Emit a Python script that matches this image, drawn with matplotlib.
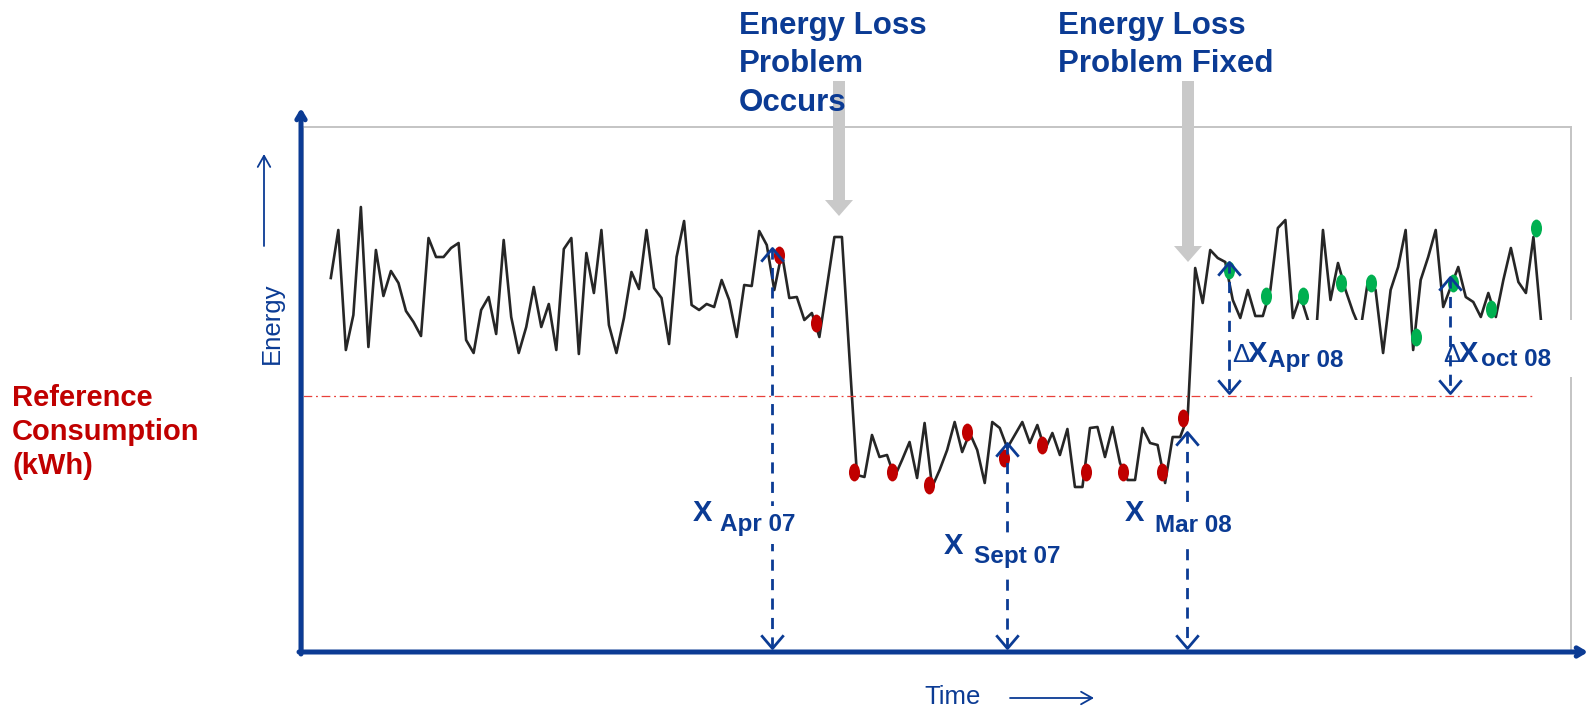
import matplotlib
matplotlib.use("Agg")
import matplotlib.pyplot as plt
import matplotlib.transforms as mtransforms
from matplotlib.patches import FancyArrow, Rectangle
from matplotlib.path import Path
import numpy as np

# energy readings (one per time step), arbitrary kWh units
energy = [74.6, 84.2, 60.2, 67.2, 88.8, 60.8, 80.2, 71.0, 76.0, 73.6,
          68.0, 65.8, 63.0, 82.6, 78.8, 78.8, 80.6, 81.6, 62.2, 59.6,
          68.2, 70.8, 63.4, 82.2, 66.8, 59.6, 64.8, 72.8, 64.8, 69.4,
          60.2, 80.4, 82.6, 59.4, 79.6, 71.6, 84.2, 65.2, 59.6, 66.6,
          75.8, 72.4, 84.2, 72.6, 70.6, 61.4, 78.8, 86.0, 69.2, 68.2,
          69.4, 68.8, 74.2, 70.2, 62.8, 73.2, 73.0, 84.0, 81.2, 72.2,
          79.6, 70.6, 70.8, 66.2, 67.6, 62.8, 72.8, 82.8, 82.8, 58.8,
          35.2, 34.8, 43.2, 38.8, 39.2, 34.8, 38.2, 41.8, 34.6, 45.6,
          32.8, 36.2, 40.2, 45.8, 39.8, 43.6, 40.2, 33.6, 45.8, 44.6,
          40.6, 43.2, 45.8, 41.6, 45.2, 40.2, 43.6, 39.2, 44.4, 32.8,
          32.8, 44.6, 44.8, 38.8, 44.8, 37.6, 34.2, 34.2, 44.6, 41.6,
          41.2, 33.6, 42.8, 42.8, 46.8, 76.6, 69.6, 80.2, 78.6, 77.8,
          70.2, 66.6, 72.2, 67.0, 67.0, 72.2, 84.6, 86.2, 66.6, 71.0,
          66.2, 61.2, 84.2, 70.2, 77.6, 72.2, 67.8, 64.2, 74.2, 72.2,
          59.6, 72.2, 76.8, 84.2, 60.2, 74.2, 78.8, 84.2, 68.8, 72.8,
          76.8, 70.8, 69.8, 66.8, 71.6, 66.8, 74.2, 80.6, 73.8, 71.6,
          82.8, 66.2]
ref_level = 51.0
ref_end = 160.2

# highlighted readings
red_t = [59.6, 64.5, 69.6, 74.6, 79.6, 84.6, 89.5, 94.6, 100.5, 105.4, 110.6, 113.4]
red_e = [79.2, 65.6, 35.8, 35.8, 33.2, 43.8, 38.6, 41.2, 35.8, 35.8, 35.8, 46.6]
green_t = [119.5, 124.4, 129.3, 134.4, 138.4, 144.4, 149.3, 154.3, 160.3]
green_e = [76.2, 71.0, 71.0, 73.6, 73.6, 62.8, 73.6, 68.4, 84.6]

# marked months
months = ["Apr 07", "Sept 07", "Mar 08"]
month_t = [58.7, 89.9, 113.9]
month_top = [80.6, 41.6, 43.8]
delta_months = ["Apr 08", "oct 08"]
delta_t = [119.5, 148.9]
delta_top = [77.8, 74.8]

BLUE = "#0B3B94"
RED = "#C00000"
W, H = 1591, 710

plt.rcParams['font.family'] = ['Liberation Sans', 'DejaVu Sans']

fig = plt.figure(figsize=(W / 100, H / 100), dpi=100)
ax = fig.add_axes([303 / W, 1 - 651 / H, (1571 - 303) / W, (651 - 127) / H])
ax.set_xlim(-3.7, 165.0)
ax.set_ylim(0, 104.8)
ax.set_xticks([])
ax.set_yticks([])
for s in ax.spines.values():
    s.set_color("#C4C4C4")
    s.set_linewidth(1.4)

# pixel coords, origin top-left
pix = mtransforms.Affine2D().scale(1, -1).translate(0, H)

t = np.arange(len(energy))
ax.plot(t, energy, color="#262626", lw=1.9, zorder=2)
ax.plot([-3.7, ref_end], [ref_level, ref_level], color="#E8403A", lw=0.9,
        linestyle=(0, (7, 3, 1.5, 3)), zorder=2)

ell = Path.unit_circle().transformed(mtransforms.Affine2D().scale(0.62, 1.0))
ax.scatter(red_t, red_e, s=165, marker=ell, color=RED, zorder=3, linewidths=0)
ax.scatter(green_t, green_e, s=165, marker=ell, color="#00B050", zorder=3, linewidths=0)

# white boxes behind the delta labels
for x0, x1 in [(1232, 1372), (1440, 1585)]:
    ax.add_patch(Rectangle((x0, 320), x1 - x0, 57, transform=pix, facecolor="white",
                           edgecolor="none", zorder=4, clip_on=False))

up = Path([(-0.85, -1), (0, 0), (0.85, -1)], [Path.MOVETO, Path.LINETO, Path.LINETO])
down = Path([(-0.85, 1), (0, 0), (0.85, 1)], [Path.MOVETO, Path.LINETO, Path.LINETO])
dash = (0, (4, 3))

for tm, top in zip(month_t, month_top):
    ax.plot([tm, tm], [top, 0.6], color=BLUE, lw=2.0, linestyle=dash, zorder=5, clip_on=False)
    ax.plot([tm], [top], marker=up, ms=19, mfc="none", mec=BLUE, mew=2.0, ls="none",
            zorder=6, clip_on=False)
    ax.plot([tm], [0.6], marker=down, ms=19, mfc="none", mec=BLUE, mew=2.0, ls="none",
            zorder=6, clip_on=False)

for tm, top in zip(delta_t, delta_top):
    ax.plot([tm, tm], [top, ref_level + 0.6], color=BLUE, lw=2.0, linestyle=dash, zorder=5)
    ax.plot([tm], [top], marker=up, ms=19, mfc="none", mec=BLUE, mew=2.0, ls="none", zorder=6)
    ax.plot([tm], [ref_level + 0.6], marker=down, ms=19, mfc="none", mec=BLUE, mew=2.0,
            ls="none", zorder=6)

# month labels
lab_pos = [(693, 513, 720, 525), (944, 546, 974, 556), (1125, 513, 1155, 525)]
for name, (xx, yx, xs, ys) in zip(months, lab_pos):
    ax.text(xx, yx, "X", transform=pix, fontsize=21, fontweight="bold", color=BLUE,
            ha="left", va="center", zorder=7)
    ax.text(xs, ys, name, transform=pix, fontsize=17.5, fontweight="bold", color=BLUE,
            ha="left", va="center", zorder=7,
            bbox=dict(facecolor="white", edgecolor="none", pad=5))

dlab_pos = [(1232, 1248, 1268), (1443, 1459, 1481)]
for name, (xd, xx, xs) in zip(delta_months, dlab_pos):
    ax.text(xd, 355, "\u0394", transform=pix, fontsize=19, color=BLUE, ha="left",
            va="center", zorder=7)
    ax.text(xx, 354, "X", transform=pix, fontsize=21, fontweight="bold", color=BLUE,
            ha="left", va="center", zorder=7)
    ax.text(xs, 360, name, transform=pix, fontsize=17.5, fontweight="bold", color=BLUE,
            ha="left", va="center", zorder=7)

# axes arrows
ax.annotate("", xy=(301, 108), xytext=(301, 654), xycoords=pix, textcoords=pix,
            arrowprops=dict(arrowstyle="->,head_length=0.5,head_width=0.3", lw=3.6,
                            color=BLUE, shrinkA=0, shrinkB=0),
            annotation_clip=False)
ax.annotate("", xy=(1588, 652), xytext=(299, 652), xycoords=pix, textcoords=pix,
            arrowprops=dict(arrowstyle="->,head_length=0.5,head_width=0.3", lw=3.6,
                            color=BLUE, shrinkA=0, shrinkB=0),
            annotation_clip=False)

ax.text(272, 323, "Energy", transform=pix, rotation=90, fontsize=18.5, color=BLUE,
        ha="center", va="center")
ax.annotate("", xy=(264, 154), xytext=(264, 246), xycoords=pix, textcoords=pix,
            arrowprops=dict(arrowstyle="->,head_length=0.8,head_width=0.45", lw=1.3,
                            color=BLUE, shrinkA=0, shrinkB=0),
            annotation_clip=False)
ax.text(953, 697, "Time", transform=pix, fontsize=18.5, color=BLUE, ha="center", va="center")
ax.annotate("", xy=(1094, 698), xytext=(1010, 698), xycoords=pix, textcoords=pix,
            arrowprops=dict(arrowstyle="->,head_length=0.8,head_width=0.45", lw=1.3,
                            color=BLUE, shrinkA=0, shrinkB=0),
            annotation_clip=False)

for i, line in enumerate(["Reference", "Consumption", "(kWh)"]):
    ax.text(12, 398 + i * 34, line, transform=pix, fontsize=21, fontweight="bold",
            color=RED, ha="left", va="center")

# event titles and grey arrows
for xa, ytip in [(839, 216), (1188, 262)]:
    ax.add_patch(FancyArrow(xa, 81, 0, ytip - 81, width=12, head_width=28, head_length=16,
                            length_includes_head=True, transform=pix, color="#C9C9C9",
                            lw=0, zorder=6, clip_on=False))

for i, line in enumerate(["Energy Loss", "Problem", "Occurs"]):
    ax.text(739, 26 + i * 38.5, line, transform=pix, fontsize=22.5, fontweight="bold",
            color=BLUE, ha="left", va="center", zorder=8)
for i, line in enumerate(["Energy Loss", "Problem Fixed"]):
    ax.text(1058, 26 + i * 38.5, line, transform=pix, fontsize=22.5, fontweight="bold",
            color=BLUE, ha="left", va="center", zorder=8)

fig.savefig("out.png", dpi=100, facecolor="white")
